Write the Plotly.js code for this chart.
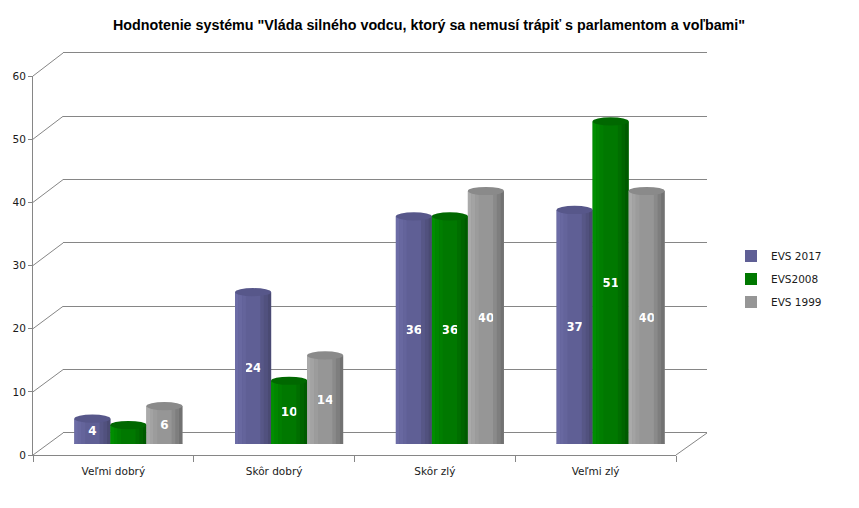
<!DOCTYPE html>
<html><head><meta charset="utf-8">
<script src="https://cdn.plot.ly/plotly-3.0.1.min.js"></script>
<style>html,body{margin:0;padding:0;background:#fff}</style>
</head><body><div id="chart" style="width:859px;height:508px"></div>
<script>
// ---- data ----
const categories = ["Veľmi dobrý", "Skôr dobrý", "Skôr zlý", "Veľmi zlý"];
const seriesNames = ["EVS 2017", "EVS2008", "EVS 1999"];
const evs2017 = [4, 24, 36, 37];
const evs2008 = [3, 10, 36, 51];
const evs1999 = [6, 14, 40, 40];
const labels2017 = ["4", "24", "36", "37"];
const labels2008 = ["", "10", "36", "51"];
const labels1999 = ["6", "14", "40", "40"];
const yTicks = [0, 10, 20, 30, 40, 50, 60];
const chartTitle = 'Hodnotenie systému "Vláda silného vodcu, ktorý sa nemusí trápiť s parlamentom a voľbami"';

// ---- styling / geometry ----
const W = 859, H = 508;
const px = x => x / W, py = y => 1 - y / H;
const front = {x0: 33, x1: 676, y0: 455, y1: 76};
const back = {x0: 63, x1: 707, y0: 433, y1: 53};
const mid = {x0: 48, x1: 691, y0: 444, y1: 64.5};
const gridCol = '#868686';
const tickFont = {family: 'DejaVu Sans', size: 10.5, color: '#1a1a1a'};
const bargap = 0.328;
// back-wall axis padded by one unit so edge gridlines are drawn
const pad = 1;
const backUnit = (back.y0 - back.y1) / 60;
// gradient stops left -> right across each cylinder: [fromFrac, toFrac, colour]
const styles = [
  {base: '#5f5f95', top: '#57578a', strips: [[0, 0.1, '#6c6ca6'], [0.1, 0.2, '#6868a0'], [0.2, 0.3, '#64649b'],
    [0.7, 0.8, '#575787'], [0.8, 0.9, '#51517e'], [0.9, 1, '#4a4a73']]},
  {base: '#007800', top: '#006800', strips: [[0, 0.1, '#008e00'], [0.1, 0.2, '#008600'], [0.2, 0.3, '#007e00'],
    [0.7, 0.8, '#006e00'], [0.8, 0.9, '#006400'], [0.9, 1, '#005a00']]},
  {base: '#969696', top: '#8a8a8a', strips: [[0, 0.1, '#aaaaaa'], [0.1, 0.2, '#a3a3a3'], [0.2, 0.3, '#9c9c9c'],
    [0.7, 0.8, '#8a8a8a'], [0.8, 0.9, '#7e7e7e'], [0.9, 1, '#727272']]}
];
const seriesVals = [evs2017, evs2008, evs1999];
const seriesLabels = [labels2017, labels2008, labels1999];

const traces = [];
// back wall subplot (xy) - grid only
traces.push({type: 'scatter', x: [], y: [], xaxis: 'x', yaxis: 'y', showlegend: false, hoverinfo: 'skip'});
// bars (x2y2)
seriesNames.forEach((name, i) => {
  traces.push({
    type: 'bar', name: name, x: categories, y: seriesVals[i],
    xaxis: 'x2', yaxis: 'y2', legendgroup: 'g' + i,
    marker: {color: styles[i].base, line: {width: 0}},
    text: seriesLabels[i], textposition: 'inside', insidetextanchor: 'middle',
    textangle: 0, constraintext: 'none',
    textfont: {family: 'DejaVu Sans', size: 12, color: '#ffffff', weight: 'bold'},
    hoverinfo: 'skip'
  });
});
// front axes (x3y3)
traces.push({type: 'scatter', mode: 'none', x: categories, y: evs2017, xaxis: 'x3', yaxis: 'y3', showlegend: false, hoverinfo: 'skip'});

// ---- shapes ----
const shapes = [];
const fY = v => py(front.y0 + (front.y1 - front.y0) * v / 60);
const bY = v => py(back.y0 + (back.y1 - back.y0) * v / 60);
yTicks.forEach(v => {
  shapes.push({type: 'line', xref: 'paper', yref: 'paper', x0: px(front.x0), y0: fY(v), x1: px(back.x0), y1: bY(v),
    line: {color: gridCol, width: 1}, layer: 'below'});
});
shapes.push({type: 'line', xref: 'paper', yref: 'paper', x0: px(front.x1), y0: fY(0), x1: px(back.x1), y1: bY(0),
  line: {color: gridCol, width: 1}, layer: 'below'});

const bw = (1 - bargap) / 3;
const capH = 0.65;
seriesVals.forEach((vals, s) => {
  const st = styles[s];
  vals.forEach((v, c) => {
    const cx = c + (s - 1) * bw;
    const L = cx - bw / 2;
    // bottom rounded end (below bar)
    shapes.push({type: 'circle', xref: 'x2', yref: 'y2', x0: L, x1: L + bw, y0: -capH * 0.75, y1: capH * 0.75,
      fillcolor: st.base, line: {width: 0}, layer: 'below'});
    // shading strips
    st.strips.forEach(([a, b, col]) => {
      shapes.push({type: 'rect', xref: 'x2', yref: 'y2', x0: L + a * bw, x1: L + b * bw, y0: 0, y1: v,
        fillcolor: col, line: {width: 0}, layer: 'above'});
    });
    // top cap
    shapes.push({type: 'circle', xref: 'x2', yref: 'y2', x0: L, x1: L + bw, y0: v - capH, y1: v + capH,
      fillcolor: st.top, line: {width: 0}, layer: 'above'});
  });
});

const layout = {
  width: W, height: H,
  margin: {l: 0, r: 0, t: 0, b: 0, pad: 0},
  paper_bgcolor: '#ffffff', plot_bgcolor: 'rgba(0,0,0,0)',
  title: {text: chartTitle, x: 429 / W, xanchor: 'center', y: py(25), yanchor: 'middle',
    font: {family: 'Liberation Sans', size: 14.3, color: '#000', weight: 'bold'}},
  barmode: 'group', bargap: bargap, bargroupgap: 0,
  hovermode: false,
  showlegend: true,
  legend: {x: px(731), xanchor: 'left', y: py(279), yanchor: 'middle', font: tickFont,
    traceorder: 'grouped', tracegroupgap: 4, bgcolor: 'rgba(0,0,0,0)'},
  xaxis: {domain: [px(back.x0), px(back.x1)], range: [0, 1], anchor: 'y', showticklabels: false,
    showgrid: false, zeroline: false, showline: false, ticks: '', fixedrange: true},
  yaxis: {domain: [py(back.y0 + pad * backUnit), py(back.y1 - pad * backUnit)], range: [-pad, 60 + pad],
    anchor: 'x', tickvals: yTicks,
    showgrid: true, gridcolor: gridCol, gridwidth: 1, zeroline: false, showticklabels: false,
    showline: false, ticks: '', fixedrange: true},
  xaxis2: {domain: [px(mid.x0), px(mid.x1)], range: [-0.5, 3.5], type: 'category', anchor: 'y2',
    visible: false, fixedrange: true},
  yaxis2: {domain: [py(mid.y0), py(mid.y1)], range: [0, 60], anchor: 'x2', visible: false, fixedrange: true},
  xaxis3: {domain: [px(front.x0), px(front.x1)], range: [-0.5, 3.5], type: 'category', anchor: 'y3',
    showline: true, linecolor: gridCol, linewidth: 1, ticks: 'outside', tickson: 'boundaries',
    ticklen: 6, tickcolor: gridCol, showgrid: false, zeroline: false, tickfont: tickFont,
    ticklabelstandoff: 6, fixedrange: true},
  yaxis3: {domain: [py(front.y0), py(front.y1)], range: [0, 60], anchor: 'x3', tickvals: yTicks,
    showline: true, linecolor: gridCol, linewidth: 1, ticks: 'outside', ticklen: 4, tickcolor: gridCol,
    showgrid: false, zeroline: false, tickfont: tickFont, fixedrange: true},
  shapes: shapes
};

Plotly.newPlot('chart', traces, layout, {staticPlot: true, displayModeBar: false});
</script>
</body></html>
